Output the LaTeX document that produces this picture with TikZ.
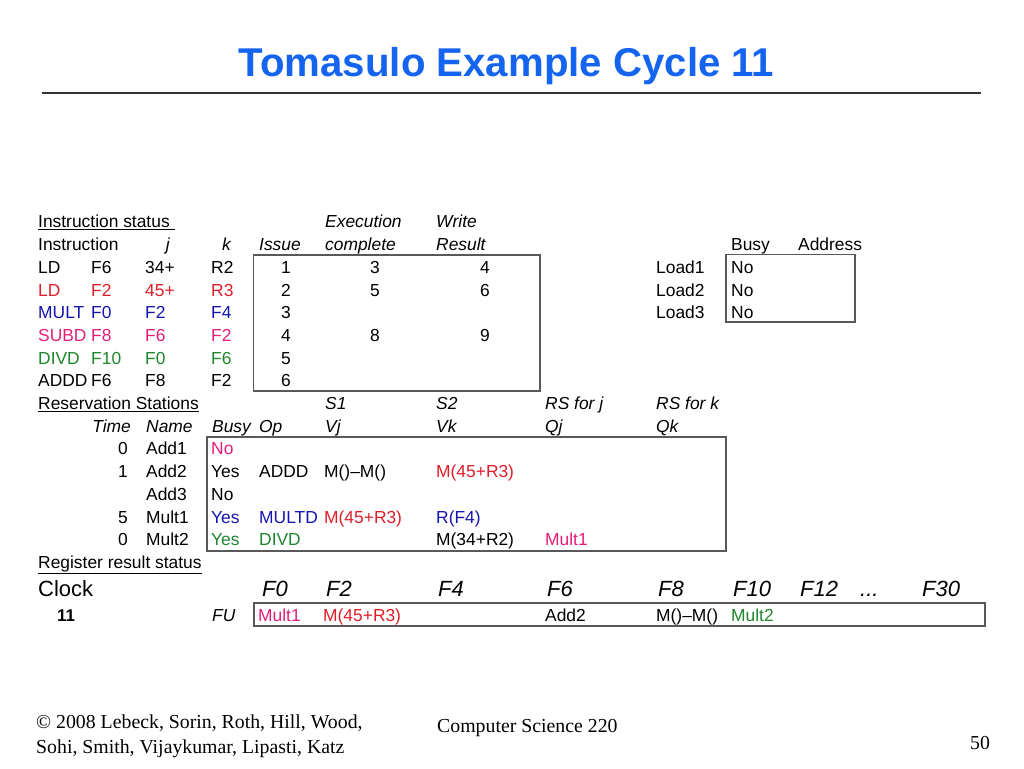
\documentclass[tikz,border=0pt]{standalone}
\usepackage{fontspec}
\setmainfont{Liberation Sans}
\newfontfamily\timesfont{Liberation Serif}
\definecolor{titleblue}{RGB}{20,100,240}
\definecolor{ldred}{RGB}{222,30,40}
\definecolor{mulblue}{RGB}{20,20,175}
\definecolor{subpink}{RGB}{228,30,120}
\definecolor{divgreen}{RGB}{30,135,45}

\begin{document}
\begin{tikzpicture}[x=1pt,y=-1pt,
    cell/.style={anchor=base west, inner sep=0pt, font=\fontsize{17.4}{20}\selectfont},
    hcell/.style={cell, font=\fontsize{17.4}{20}\selectfont\itshape},
    big/.style={anchor=base west, inner sep=0pt, font=\fontsize{22}{26}\selectfont},
    bigit/.style={big, font=\fontsize{22}{26}\selectfont\itshape},
    frame/.style={draw=black!65, line width=1.4pt},
    foot/.style={anchor=base west, inner sep=0pt, font=\timesfont\fontsize{19.8}{24}\selectfont}]
    \useasboundingbox (0,0) rectangle (1024,768);

    % Title
    \node[anchor=base, inner sep=0pt, font=\bfseries\fontsize{40.2}{44}\selectfont, text=titleblue] (title) at (506.5,77) {Tomasulo Example Cycle 11};
    \draw[line width=2pt, black!80] (42,93) -- (981,93);

    % Instruction status
    \node[cell] (istat) at (38,227.5) {\underline{Instruction status\ }};
    \node[hcell] (hexec) at (325,227.5) {Execution};
    \node[hcell] (hwrite) at (436,227.5) {Write};
    \node[cell] (hinstr) at (38,250.5) {Instruction};
    \node[hcell, anchor=base east] (hj) at (170,250.5) {j};
    \node[hcell, anchor=base east] (hk) at (231,250.5) {k};
    \node[hcell] (hissue) at (259,250.5) {Issue};
    \node[hcell] (hcompl) at (325,250.5) {complete};
    \node[hcell] (hresult) at (436,250.5) {Result};
    \node[cell] (hbusy) at (731,250.5) {Busy};
    \node[cell] (haddr) at (798,250.5) {Address};

    \foreach \op/\dst/\j/\k/\is/\ex/\wr/\c [count=\n] in {
        LD/F6/34+/R2/1/3/4/black, LD/F2/45+/R3/2/5/6/ldred,
        MULT/F0/F2/F4/3///mulblue, SUBD/F8/F6/F2/4/8/9/subpink,
        DIVD/F10/F0/F6/5///divgreen, ADDD/F6/F8/F2/6///black} {
        \pgfmathsetmacro\yy{273.3+(\n-1)*22.7}
        \node[cell, text=\c] (op\n) at (38,\yy) {\op};
        \node[cell, text=\c] (dst\n) at (91,\yy) {\dst};
        \node[cell, text=\c] (j\n) at (145,\yy) {\j};
        \node[cell, text=\c] (k\n) at (211,\yy) {\k};
        \node[cell, anchor=base] (is\n) at (286,\yy) {\is};
        \node[cell, anchor=base] (ex\n) at (375,\yy) {\ex};
        \node[cell, anchor=base] (wr\n) at (485,\yy) {\wr};
    }
    \draw[frame] (253.5,255) rectangle (540,391);

    % Load buffers
    \foreach \ld [count=\n] in {Load1,Load2,Load3} {
        \pgfmathsetmacro\yy{273.3+(\n-1)*22.7}
        \node[cell] (ld\n) at (656,\yy) {\ld};
        \node[cell] (ldbusy\n) at (731,\yy) {No};
    }
    \draw[frame] (726,254.5) rectangle (855,322);

    % Reservation stations
    \node[cell] (rsstat) at (38,409.5) {\underline{Reservation Stations}};
    \node[hcell] (hs1) at (325,409.5) {S1};
    \node[hcell] (hs2) at (436,409.5) {S2};
    \node[hcell] (hrsj) at (545,409.5) {RS for j};
    \node[hcell] (hrsk) at (656,409.5) {RS for k};
    \node[hcell, anchor=base east] (htime) at (131,432.2) {Time};
    \node[hcell] (hname) at (146,432.2) {Name};
    \node[hcell] (hrbusy) at (212,432.2) {Busy};
    \node[hcell] (hop) at (259,432.2) {Op};
    \node[hcell] (hvj) at (325,432.2) {Vj};
    \node[hcell] (hvk) at (436,432.2) {Vk};
    \node[hcell] (hqj) at (545,432.2) {Qj};
    \node[hcell] (hqk) at (656,432.2) {Qk};

    \foreach \t/\nm [count=\n] in {0/Add1,1/Add2,/Add3,5/Mult1,0/Mult2} {
        \pgfmathsetmacro\yy{454.9+(\n-1)*22.7}
        \node[cell, anchor=base east] (time\n) at (128,\yy) {\t};
        \node[cell] (name\n) at (146,\yy) {\nm};
    }
    \node[cell, text=subpink] (busy1) at (211,454.9) {No};
    \node[cell] (busy2) at (211,477.6) {Yes};
    \node[cell] (opc2) at (259,477.6) {ADDD};
    \node[cell] (vj2) at (324,477.6) {M()\textendash M()};
    \node[cell, text=ldred] (vk2) at (436,477.6) {M(45+R3)};
    \node[cell] (busy3) at (211,500.3) {No};
    \node[cell, text=mulblue] (busy4) at (211,523) {Yes};
    \node[cell, text=mulblue] (opc4) at (259,523) {MULTD};
    \node[cell, text=ldred] (vj4) at (324,523) {M(45+R3)};
    \node[cell, text=mulblue] (vk4) at (436,523) {R(F4)};
    \node[cell, text=divgreen] (busy5) at (211,545.7) {Yes};
    \node[cell, text=divgreen] (opc5) at (259,545.7) {DIVD};
    \node[cell] (vk5) at (436,545.7) {M(34+R2)};
    \node[cell, text=subpink] (qj5) at (545,545.7) {Mult1};
    \draw[frame] (207,437) rectangle (726,551);

    % Register result status
    \node[cell] (regstat) at (38,568.5) {\underline{Register result status}};
    \node[big] (clock) at (38,596) {Clock};
    \foreach \f/\xx [count=\n] in {F0/262,F2/326,F4/438,F6/547,F8/658,F10/733,F12/800,F30/922}
        \node[bigit] (reg\n) at (\xx,596) {\f};
    \node[bigit] (regdots) at (860,596) {...};
    \node[cell, font=\bfseries\fontsize{17}{20}\selectfont] (cyc) at (57,621) {11};
    \node[hcell] (fu) at (212,621) {FU};
    \node[cell, text=subpink] (fu0) at (258,621) {Mult1};
    \node[cell, text=ldred] (fu2) at (323,621) {M(45+R3)};
    \node[cell] (fu6) at (545,621) {Add2};
    \node[cell] (fu8) at (656,621) {M()\textendash M()};
    \node[cell, text=divgreen] (fu10) at (731,621) {Mult2};
    \draw[frame] (254,603) rectangle (985,626);

    % Footer
    \node[foot] (copy1) at (36,728.5) {\textcopyright{} 2008 Lebeck, Sorin, Roth, Hill, Wood,};
    \node[foot] (copy2) at (36,753) {Sohi, Smith, Vijaykumar, Lipasti, Katz};
    \node[foot] (course) at (437,732) {Computer Science 220};
    \node[foot] (page) at (970,749) {50};
\end{tikzpicture}
\end{document}
